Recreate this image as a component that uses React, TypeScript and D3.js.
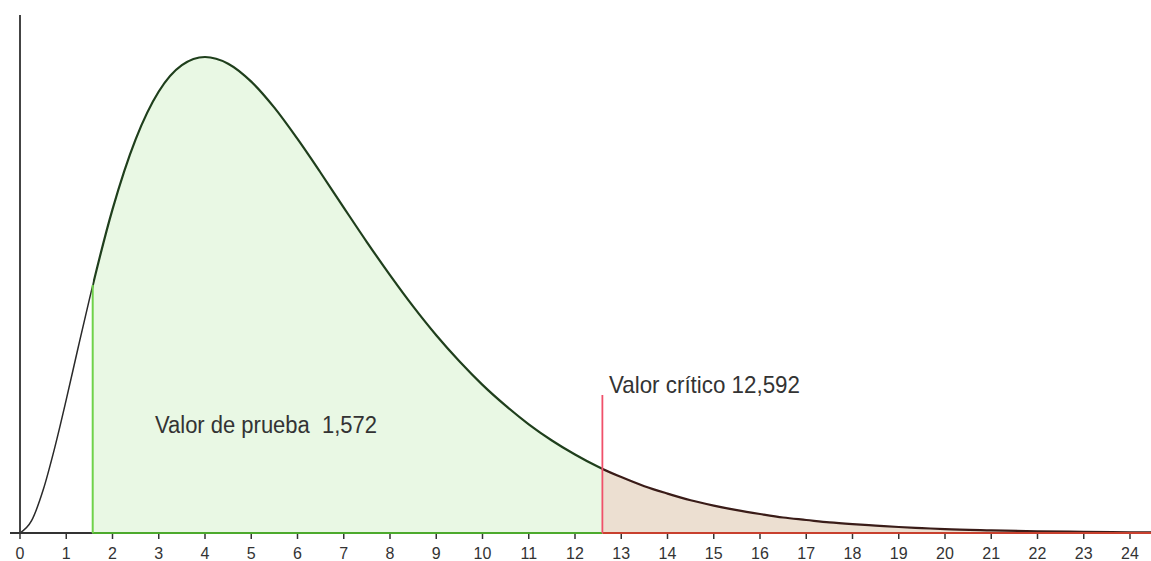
import React from 'react'
import * as d3 from 'd3'

// Chi-square curve (df = 6), density
const curveX = [
  0, 0.25, 0.5, 0.75, 1, 1.25, 1.5, 2, 2.5, 3, 3.5, 4, 4.5, 5, 5.5, 6, 6.5, 7, 7.5, 8, 8.5, 9, 9.5,
  10, 10.5, 11, 11.5, 12, 12.5, 13, 13.5, 14, 14.5, 15, 15.5, 16, 16.5, 17, 17.5,
  18, 18.5, 19, 19.5, 20, 21, 22, 23, 24, 25,
]
const curveY = [
  0, 0.0035, 0.0122, 0.0242, 0.0379, 0.0523, 0.0664, 0.092, 0.1119, 0.1255, 0.133, 0.1353, 0.1334, 0.1283,
  0.1209, 0.112, 0.1024, 0.0925, 0.0827, 0.0733, 0.0644, 0.0562, 0.0488, 0.0421,
  0.0362, 0.0309, 0.0263, 0.0223, 0.0188, 0.0159, 0.0133, 0.0112, 0.0093, 0.0078,
  0.0065, 0.0054, 0.0044, 0.0037, 0.003, 0.0025, 0.0021, 0.0017, 0.0014, 0.0011,
  0.00076, 0.0005, 0.00033, 0.00022, 0.00015,
]
const xTicks = d3.range(0, 25)
const testValue = 1.572
const criticalValue = 12.592
const testLabel = 'Valor de prueba  1,572'
const criticalLabel = 'Valor crítico 12,592'

export default function App() {
  const width = 1151
  const height = 561
  const x = d3.scaleLinear().domain([0, 24]).range([20, 1130])
  const y = d3.scaleLinear().domain([0, 0.1353]).range([533, 57])
  const pts = curveX.map((v, i) => [v, curveY[i]] as [number, number])

  const line = d3.line<[number, number]>()
    .x(d => x(d[0]))
    .y(d => y(d[1]))
    .curve(d3.curveMonotoneX)
  const area = d3.area<[number, number]>()
    .x(d => x(d[0]))
    .y0(y(0))
    .y1(d => y(d[1]))
    .curve(d3.curveMonotoneX)

  const xt = x(testValue)
  const xc = x(criticalValue)
  const font = '"Liberation Sans", Arial, sans-serif'

  return (
    <svg width={width} height={height} style={{ position: 'absolute', left: 0, top: 0, background: '#fff' }}>
      <defs>
        <clipPath id="clipLeft"><rect x={0} y={0} width={xt} height={height} /></clipPath>
        <clipPath id="clipGreen"><rect x={xt} y={0} width={xc - xt} height={height} /></clipPath>
        <clipPath id="clipRed"><rect x={xc} y={0} width={width - xc} height={height} /></clipPath>
      </defs>

      {/* shaded regions */}
      <path d={area(pts) ?? ''} fill="#e9f8e4" clipPath="url(#clipGreen)" />
      <path d={area(pts) ?? ''} fill="#ecdfd1" clipPath="url(#clipRed)" />

      {/* curve */}
      <path d={line(pts) ?? ''} fill="none" stroke="#2a2a2a" strokeWidth={1.5} clipPath="url(#clipLeft)" />
      <path d={line(pts) ?? ''} fill="none" stroke="#1f3f1c" strokeWidth={2.2} clipPath="url(#clipGreen)" />
      <path d={line(pts) ?? ''} fill="none" stroke="#3a1c18" strokeWidth={2.2} clipPath="url(#clipRed)" />

      {/* y axis */}
      <line x1={20} x2={20} y1={15} y2={533} stroke="#444" strokeWidth={2} />

      {/* x axis */}
      <line x1={10} x2={xt} y1={533} y2={533} stroke="#333" strokeWidth={2} />
      <line x1={xt} x2={xc} y1={533} y2={533} stroke="#4caa2c" strokeWidth={2} />
      <line x1={xc} x2={width} y1={533} y2={533} stroke="#c8402e" strokeWidth={2} />
      {xTicks.map(t => (
        <g key={t}>
          <line x1={x(t)} x2={x(t)} y1={534} y2={539} stroke="#333" strokeWidth={1.5} />
          <text x={x(t)} y={559} textAnchor="middle" fontFamily={font} fontSize={16} fill="#333">{t}</text>
        </g>
      ))}

      {/* test value line */}
      <line x1={xt} x2={xt} y1={y(0.0705)} y2={533} stroke="#6fd24a" strokeWidth={2} />
      {/* critical value line */}
      <line x1={xc} x2={xc} y1={395} y2={533} stroke="#f0506a" strokeWidth={1.8} />

      <text x={155} y={433} fontFamily={font} fontSize={23} fill="#333" textLength={222} lengthAdjust="spacingAndGlyphs"
        style={{ whiteSpace: 'pre' }}>{testLabel}</text>
      <text x={609} y={393} fontFamily={font} fontSize={24} fill="#333" textLength={191} lengthAdjust="spacingAndGlyphs">{criticalLabel}</text>
    </svg>
  )
}
